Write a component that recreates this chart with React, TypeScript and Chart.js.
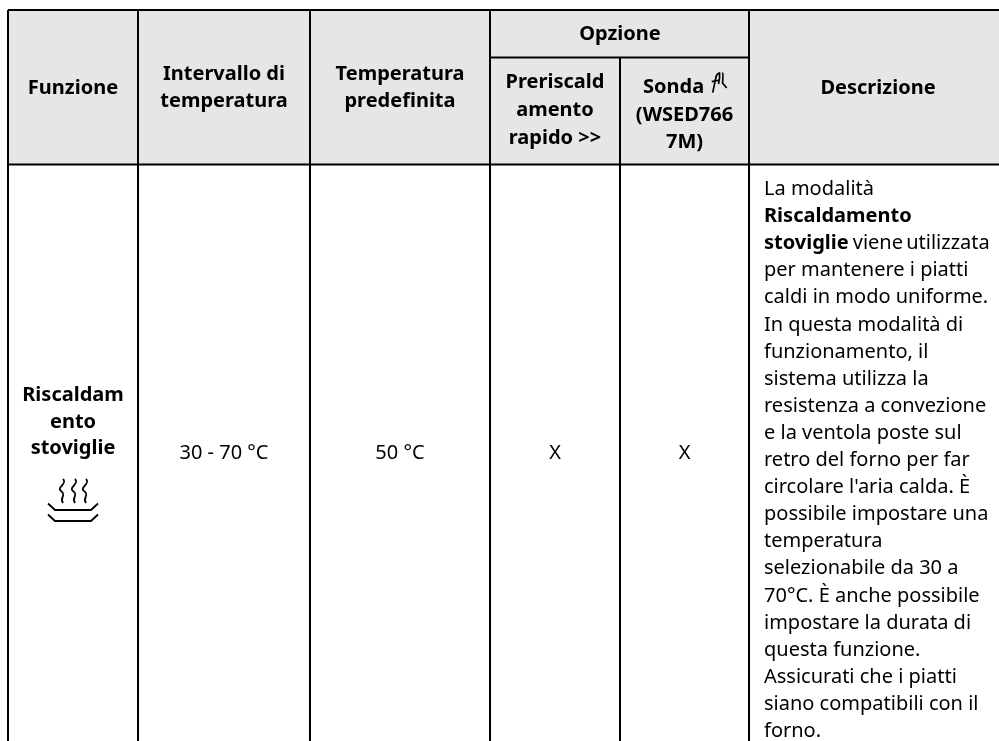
import React, { useEffect, useRef } from "react";
import { Chart, registerables } from "chart.js";

Chart.register(...registerables);

// Table rules (in page pixels)
const columnEdges = [8, 138, 310, 490, 620, 749, 999];
const rowEdges = [10, 57.5, 164.5, 741];

type Run = { t: string; bold?: boolean };
type Cell = { x: number; baselines: number[]; lines: string[]; bold?: boolean; align?: "left" | "center" };

const headerCells: Cell[] = [
  { x: 73, baselines: [94], lines: ["Funzione"], bold: true },
  { x: 224, baselines: [80, 107], lines: ["Intervallo di", "temperatura"], bold: true },
  { x: 400, baselines: [80, 107], lines: ["Temperatura", "predefinita"], bold: true },
  { x: 620, baselines: [40], lines: ["Opzione"], bold: true },
  { x: 555, baselines: [88, 116, 144], lines: ["Preriscald", "amento", "rapido >>"], bold: true },
  { x: 643, baselines: [93], lines: ["Sonda"], bold: true, align: "left" },
  { x: 684.5, baselines: [121, 148], lines: ["(WSED766", "7M)"], bold: true },
  { x: 878, baselines: [94], lines: ["Descrizione"], bold: true },
];
const bodyCells: Cell[] = [
  { x: 73, baselines: [401, 428, 454], lines: ["Riscaldam", "ento", "stoviglie"], bold: true },
  { x: 224, baselines: [459], lines: ["30 - 70 °C"] },
  { x: 400, baselines: [459], lines: ["50 °C"] },
  { x: 555, baselines: [459], lines: ["X"] },
  { x: 684.5, baselines: [459], lines: ["X"] },
];

const descriptionRuns: Run[][] = [
  [{ t: "La modalità" }],
  [{ t: "Riscaldamento", bold: true }],
  [{ t: "stoviglie", bold: true }, { t: "viene utilizzata" }],
  [{ t: "per mantenere i piatti" }],
  [{ t: "caldi in modo uniforme." }],
  [{ t: "In questa modalità di" }],
  [{ t: "funzionamento, il" }],
  [{ t: "sistema utilizza la" }],
  [{ t: "resistenza a convezione" }],
  [{ t: "e la ventola poste sul" }],
  [{ t: "retro del forno per far" }],
  [{ t: "circolare l'aria calda. È" }],
  [{ t: "possibile impostare una" }],
  [{ t: "temperatura" }],
  [{ t: "selezionabile da 30 a" }],
  [{ t: "70°C. È anche possibile" }],
  [{ t: "impostare la durata di" }],
  [{ t: "questa funzione." }],
  [{ t: "Assicurati che i piatti" }],
  [{ t: "siano compatibili con il" }],
  [{ t: "forno." }],
];
const descriptionLeft = 764;
const descriptionFirstBaseline = 195;
const descriptionLineStep = 27.1;
const runJoinGap = 4;

const FONT_FAMILY = '"Noto Sans", sans-serif';
const font = (bold?: boolean) => `${bold ? "bold " : ""}20px ${FONT_FAMILY}`;

const tablePlugin = {
  id: "tablePlugin",
  beforeDatasetsDraw(chart: any) {
    const { ctx, scales } = chart;
    const X = scales.x;
    const Y = scales.y;
    const xs = (v: number) => X.getPixelForValue(v);
    const ys = (v: number) => Y.getPixelForValue(v);
    ctx.save();
    ctx.fillStyle = "#e6e6e6";
    ctx.fillRect(xs(columnEdges[0]), ys(rowEdges[0]), xs(columnEdges[6]) - xs(columnEdges[0]), ys(rowEdges[2]) - ys(rowEdges[0]));
    ctx.restore();
  },
  afterDatasetsDraw(chart: any) {
    const { ctx, scales } = chart;
    const X = scales.x;
    const Y = scales.y;
    ctx.save();
    ctx.fillStyle = "#000";
    ctx.textBaseline = "alphabetic";
    for (const c of [...headerCells, ...bodyCells]) {
      ctx.font = font(c.bold);
      ctx.textAlign = c.align || "center";
      c.lines.forEach((l, i) => ctx.fillText(l, X.getPixelForValue(c.x), Y.getPixelForValue(c.baselines[i])));
    }
    ctx.textAlign = "left";
    descriptionRuns.forEach((runs, i) => {
      let px = X.getPixelForValue(descriptionLeft);
      const py = Y.getPixelForValue(descriptionFirstBaseline + i * descriptionLineStep);
      runs.forEach((r, k) => {
        ctx.font = font(r.bold);
        (ctx as any).wordSpacing = k > 0 ? "-2px" : "0px";
        ctx.fillText(r.t, px, py);
        px += ctx.measureText(r.t).width + runJoinGap;
      });
      (ctx as any).wordSpacing = "0px";
    });

    // Steam icon under "stoviglie"
    ctx.strokeStyle = "#000";
    ctx.lineWidth = 1.8;
    ctx.lineCap = "butt";
    const ix = X.getPixelForValue(73);
    for (const dx of [-11, 1, 12]) {
      ctx.beginPath();
      ctx.moveTo(ix + dx + 1, 479);
      ctx.bezierCurveTo(ix + dx + 6, 484, ix + dx - 6, 487, ix + dx - 1, 491);
      ctx.bezierCurveTo(ix + dx + 5, 495, ix + dx - 3, 498, ix + dx + 1, 503);
      ctx.stroke();
    }
    for (const top of [503.5, 514.5]) {
      ctx.beginPath();
      ctx.moveTo(ix - 25, top);
      ctx.lineTo(ix - 18, top + 6.5);
      ctx.lineTo(ix + 18, top + 6.5);
      ctx.lineTo(ix + 25, top);
      ctx.stroke();
    }

    // Probe icon after "Sonda"
    ctx.lineWidth = 1.7;
    ctx.beginPath();
    ctx.moveTo(712.7, 92.7);
    ctx.lineTo(716, 77);
    ctx.quadraticCurveTo(716.8, 73.5, 719.5, 73);
    ctx.quadraticCurveTo(720.2, 78, 718.5, 84);
    ctx.moveTo(711.7, 81.7);
    ctx.lineTo(720, 80);
    ctx.moveTo(722.3, 72.7);
    ctx.quadraticCurveTo(723.5, 73.5, 722.5, 83);
    ctx.lineTo(726.7, 88);
    ctx.stroke();
    ctx.restore();
  },
};

export default function App() {
  const ref = useRef<HTMLCanvasElement | null>(null);
  useEffect(() => {
    if (!ref.current) return;
    const verticals = columnEdges.slice(0, 6).map((x, i) => ({
      type: "scatter" as const,
      data: i === 4
        ? [{ x, y: rowEdges[1] }, { x, y: rowEdges[3] }]
        : [{ x, y: rowEdges[0] }, { x, y: rowEdges[3] }],
      showLine: true,
      borderColor: "#000",
      borderWidth: 2,
      pointRadius: 0,
    }));
    const horizontals = [
      { from: columnEdges[0], to: columnEdges[6], y: rowEdges[0] },
      { from: columnEdges[3], to: columnEdges[5], y: rowEdges[1] },
      { from: columnEdges[0], to: columnEdges[6], y: rowEdges[2] },
    ].map((h) => ({
      type: "scatter" as const,
      data: [{ x: h.from, y: h.y }, { x: h.to, y: h.y }],
      showLine: true,
      borderColor: "#000",
      borderWidth: 2,
      pointRadius: 0,
    }));
    const chart = new Chart(ref.current, {
      type: "scatter",
      data: { datasets: [...verticals, ...horizontals] as any },
      options: {
        responsive: false,
        animation: false,
        layout: { padding: 0 },
        plugins: { legend: { display: false }, tooltip: { enabled: false } },
        scales: {
          x: { type: "linear", min: 0, max: 999, display: false },
          y: { type: "linear", min: 0, max: 741, reverse: true, display: false },
        },
      },
      plugins: [tablePlugin as any],
    });
    return () => chart.destroy();
  }, []);
  return (
    <canvas
      ref={ref}
      width={999}
      height={741}
      style={{ position: "absolute", left: 0, top: 0, display: "block", width: 999, height: 741 }}
    />
  );
}
